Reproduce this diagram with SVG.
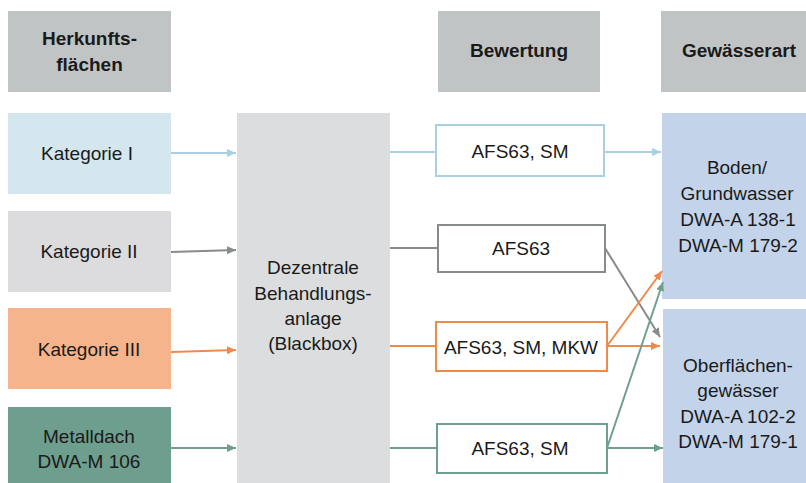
<svg xmlns="http://www.w3.org/2000/svg" width="806" height="483" viewBox="0 0 806 483">
<defs>
<style>
text{font-family:"Liberation Sans",Arial,sans-serif;font-size:19px;fill:#1a1a1a;text-anchor:middle}
.b{font-weight:bold}
.hdr{fill:#c1c4c5}
.eval{fill:#fff;stroke-width:2}
.ln{fill:none;stroke-width:2}
</style>
<marker id="aB" markerWidth="9" markerHeight="8" refX="9" refY="4" orient="auto" markerUnits="userSpaceOnUse"><path d="M0,0L9,4L0,8z" fill="#a8d0e2"/></marker>
<marker id="aG" markerWidth="9" markerHeight="8" refX="9" refY="4" orient="auto" markerUnits="userSpaceOnUse"><path d="M0,0L9,4L0,8z" fill="#878b8b"/></marker>
<marker id="aO" markerWidth="9" markerHeight="8" refX="9" refY="4" orient="auto" markerUnits="userSpaceOnUse"><path d="M0,0L9,4L0,8z" fill="#f08a4b"/></marker>
<marker id="aT" markerWidth="9" markerHeight="8" refX="9" refY="4" orient="auto" markerUnits="userSpaceOnUse"><path d="M0,0L9,4L0,8z" fill="#6fa08f"/></marker>
</defs>

<g id="h1"><rect class="hdr" x="8" y="11" width="163" height="81"/><text class="b" x="89.5" y="45">Herkunfts-</text><text class="b" x="89.5" y="71">flächen</text></g>
<g id="h2"><rect class="hdr" x="438" y="11" width="162" height="81"/><text class="b" x="519" y="57">Bewertung</text></g>
<g id="h3"><rect class="hdr" x="661" y="11" width="150" height="81"/><text class="b" x="739" y="57">Gewässerart</text></g>

<g id="k1"><rect x="8" y="113" width="163" height="81" fill="#d4e6ee"/><text x="87" y="160">Kategorie I</text></g>
<g id="k2"><rect x="8" y="211" width="163" height="81" fill="#dcdcde"/><text x="89" y="258">Kategorie II</text></g>
<g id="k3"><rect x="8" y="308" width="163" height="81" fill="#f5b48c"/><text x="89" y="356">Kategorie III</text></g>
<g id="k4"><rect x="8" y="407" width="163" height="81" fill="#6e9e8e"/><text x="89" y="443">Metalldach</text><text x="89" y="468">DWA-M 106</text></g>

<g id="center"><rect x="237" y="113" width="153" height="375" fill="#dcdddf"/><text x="313" y="274">Dezentrale</text><text x="313" y="299.5">Behandlungs-</text><text x="313" y="325">anlage</text><text x="313" y="350">(Blackbox)</text></g>

<g id="e1"><rect class="eval" x="436" y="125" width="168" height="51" stroke="#a8d0e2"/><text x="520" y="158">AFS63, SM</text></g>
<g id="e2"><rect class="eval" x="438" y="225" width="167" height="47" stroke="#878b8b"/><text x="521" y="255">AFS63</text></g>
<g id="e3"><rect class="eval" x="436" y="322" width="171" height="49" stroke="#f08a4b"/><text x="521" y="354">AFS63, SM, MKW</text></g>
<g id="e4"><rect class="eval" x="437" y="424" width="170" height="49" stroke="#6fa08f"/><text x="520" y="455">AFS63, SM</text></g>

<g id="r1"><rect x="662" y="113" width="149" height="186" fill="#c3d3e9"/><text x="737" y="174">Boden/</text><text x="737" y="200">Grundwasser</text><text x="738" y="226">DWA-A 138-1</text><text x="738" y="252">DWA-M 179-2</text></g>
<g id="r2"><rect x="663" y="309" width="148" height="179" fill="#c3d3e9"/><text x="738" y="372">Oberflächen-</text><text x="738" y="397">gewässer</text><text x="738" y="422.5">DWA-A 102-2</text><text x="738" y="448">DWA-M 179-1</text></g>

<g id="connectors">
<path class="ln" stroke="#a8d0e2" d="M171,153H236" marker-end="url(#aB)"/>
<path class="ln" stroke="#a8d0e2" d="M390,152H436"/>
<path class="ln" stroke="#a8d0e2" d="M604,152H661" marker-end="url(#aB)"/>
<path class="ln" stroke="#878b8b" d="M171,252L236,250" marker-end="url(#aG)"/>
<path class="ln" stroke="#878b8b" d="M390,248H438"/>
<path class="ln" stroke="#878b8b" d="M605,248L660,337" marker-end="url(#aG)"/>
<path class="ln" stroke="#f08a4b" d="M171,352L236,350" marker-end="url(#aO)"/>
<path class="ln" stroke="#f08a4b" d="M390,346H436"/>
<path class="ln" stroke="#f08a4b" d="M607,346H660" marker-end="url(#aO)"/>
<path class="ln" stroke="#f08a4b" d="M607,346L662,271" marker-end="url(#aO)"/>
<path class="ln" stroke="#6fa08f" d="M171,448H236" marker-end="url(#aT)"/>
<path class="ln" stroke="#6fa08f" d="M390,448H437"/>
<path class="ln" stroke="#6fa08f" d="M607,448H663" marker-end="url(#aT)"/>
<path class="ln" stroke="#6fa08f" d="M607,448L663,282" marker-end="url(#aT)"/>
</g>
</svg>
